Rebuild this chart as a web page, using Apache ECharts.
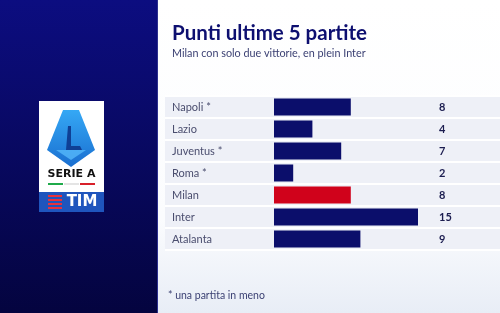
<!DOCTYPE html>
<html>
<head>
<meta charset="utf-8">
<script src="https://cdn.jsdelivr.net/npm/echarts@6/dist/echarts.min.js"></script>
<style>
  html, body { margin: 0; padding: 0; background: #fff; }
  #chart { width: 500px; height: 313px; }
</style>
</head>
<body>
<div id="chart"></div>
<script>
// dati
var teams = ['Napoli *', 'Lazio', 'Juventus *', 'Roma *', 'Milan', 'Inter', 'Atalanta'];
var points = [8, 4, 7, 2, 8, 15, 9];
var highlight = 'Milan';

var titleText = 'Punti ultime 5 partite';
var subText = 'Milan con solo due vittorie, en plein Inter';
var noteText = '* una partita in meno';

var FONT = 'Lato, "Open Sans", sans-serif';
var NAVY = '#0b0e6b';

var chart = echarts.init(document.getElementById('chart'));

// logo Serie A disegnato a mano
var logo = [
    { type: 'rect', shape: { x: 39, y: 101, width: 65, height: 91 }, style: { fill: '#ffffff' }, z: 10 },
    { type: 'rect', shape: { x: 39, y: 192, width: 65, height: 20 }, style: { fill: '#1f55bd' }, z: 10 },
    {
        type: 'polygon', z: 11,
        shape: { points: [[63, 110], [79, 110], [95, 150], [71, 167], [47, 150]] },
        style: {
            fill: new echarts.graphic.LinearGradient(0, 0, 0, 1, [
                { offset: 0, color: '#35a8f5' },
                { offset: 1, color: '#1a6fd0' }
            ])
        }
    },
    { type: 'polygon', z: 12, shape: { points: [[68, 126], [71, 126], [71, 146], [80, 146], [82, 150], [66, 150]] }, style: { fill: '#0f3f95' } },
    { type: 'polygon', z: 12, shape: { points: [[56, 150], [86, 150], [71, 160]] }, style: { fill: '#5cc0ff', opacity: 0.7 } },
    { type: 'text', z: 12, style: { x: 71.5, y: 174, text: 'SERIE A', fill: '#111', font: 'bold 11px "DejaVu Sans", sans-serif', align: 'center', verticalAlign: 'middle' } },
    { type: 'rect', z: 12, shape: { x: 48, y: 183, width: 15, height: 2 }, style: { fill: '#1faa4a' } },
    { type: 'rect', z: 12, shape: { x: 64, y: 183, width: 15, height: 2 }, style: { fill: '#e4e4e4' } },
    { type: 'rect', z: 12, shape: { x: 80, y: 183, width: 15, height: 2 }, style: { fill: '#d8202a' } },
    { type: 'rect', z: 12, shape: { x: 48, y: 195, width: 14, height: 2 }, style: { fill: '#e8313b' } },
    { type: 'rect', z: 12, shape: { x: 48, y: 199, width: 14, height: 2 }, style: { fill: '#e8313b' } },
    { type: 'rect', z: 12, shape: { x: 48, y: 203, width: 14, height: 2 }, style: { fill: '#e8313b' } },
    { type: 'rect', z: 12, shape: { x: 48, y: 207, width: 14, height: 2 }, style: { fill: '#e8313b' } },
    { type: 'text', z: 12, style: { x: 82, y: 202.5, text: 'TIM', fill: '#fff', font: 'bold 15px "DejaVu Sans", sans-serif', align: 'center', verticalAlign: 'middle' } }
];

var option = {
    animation: false,
    title: {
        left: 167,
        top: 18,
        text: titleText,
        subtext: subText,
        itemGap: 4,
        textStyle: { fontFamily: FONT, fontSize: 20.5, fontWeight: 'bold', color: '#0d0f70' },
        subtextStyle: { fontFamily: FONT, fontSize: 10.8, color: '#3a3f72' }
    },
    graphic: [
        {
            type: 'rect', z: -100, shape: { x: 0, y: 0, width: 500, height: 313 },
            style: {
                fill: new echarts.graphic.LinearGradient(0, 0, 0, 1, [
                    { offset: 0, color: '#ffffff' },
                    { offset: 0.7, color: '#fbfcfe' },
                    { offset: 1, color: '#e8edf6' }
                ])
            }
        },
        {
            type: 'rect', z: -99, shape: { x: 0, y: 0, width: 158, height: 313 },
            style: {
                fill: new echarts.graphic.LinearGradient(0, 0, 0, 1, [
                    { offset: 0, color: '#0c0d80' },
                    { offset: 1, color: '#04043f' }
                ])
            }
        },
        { type: 'rect', z: -98, shape: { x: 157, y: 0, width: 1, height: 313 }, style: { fill: '#2c2f8e' } },
        {
            type: 'text', left: 168, top: 290,
            style: { text: noteText, fill: '#3a3f72', font: '10.5px ' + FONT }
        }
    ].concat(logo),
    grid: [
        { left: 165, right: 0, top: 96, height: 154 },
        { left: 274, width: 144, top: 96, height: 154 }
    ],
    xAxis: [
        { gridIndex: 0, type: 'value', min: 0, max: 1, show: false },
        { gridIndex: 1, type: 'value', min: 0, max: 15, show: false }
    ],
    yAxis: [
        {
            gridIndex: 0, type: 'category', data: teams, inverse: true,
            axisLine: { show: false }, axisTick: { show: false },
            splitArea: { show: true, areaStyle: { color: ['#eef0f7'] } },
            splitLine: { show: true, lineStyle: { color: '#ffffff', width: 2 } },
            axisLabel: { inside: true, margin: 7, color: '#4a4d6e', fontFamily: FONT, fontSize: 11 }
        },
        {
            gridIndex: 1, type: 'category', data: teams, inverse: true, position: 'right',
            axisLine: { show: false }, axisTick: { show: false },
            axisLabel: {
                margin: 21, color: '#1c1d50', fontFamily: FONT, fontSize: 11, fontWeight: 'bold',
                formatter: function (v, i) { return String(points[i]); }
            }
        }
    ],
    series: [
        {
            type: 'bar', xAxisIndex: 1, yAxisIndex: 1,
            data: points, barWidth: 17,
            itemStyle: {
                color: function (p) { return teams[p.dataIndex] === highlight ? '#d0021b' : NAVY; }
            }
        }
    ]
};

chart.setOption(option);
</script>
</body>
</html>
